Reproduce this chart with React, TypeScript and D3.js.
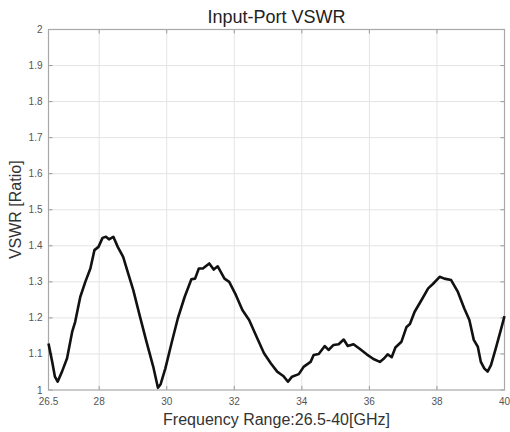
import React, { useRef, useEffect } from "react";
import * as d3 from "d3";

// Trace: frequency in GHz, VSWR ratio
const freqGHz = [
  26.5, 26.61, 26.69, 26.77, 26.9, 27.05, 27.2, 27.29, 27.44, 27.59, 27.74, 27.86, 27.98,
  28.1, 28.2, 28.29, 28.42, 28.55, 28.71, 28.86, 29.01, 29.21, 29.4, 29.6, 29.74, 29.82,
  29.96, 30.14, 30.33, 30.53, 30.73, 30.84, 30.95, 31.07, 31.26, 31.39, 31.51, 31.71,
  31.85, 32.05, 32.24, 32.44, 32.64, 32.88, 33.08, 33.27, 33.45, 33.59, 33.71, 33.91,
  34.06, 34.26, 34.35, 34.5, 34.68, 34.79, 34.94, 35.09, 35.24, 35.36, 35.53, 35.73,
  35.92, 36.12, 36.31, 36.44, 36.54, 36.66, 36.77, 36.95, 37.1, 37.2, 37.34, 37.54,
  37.74, 37.88, 38.08, 38.22, 38.42, 38.62, 38.81, 38.96, 39.09, 39.21, 39.3, 39.4,
  39.5, 39.6, 39.74, 39.89, 40.0,
];
const vswr = [
  1.129, 1.078, 1.037, 1.023, 1.051, 1.088, 1.161, 1.189, 1.258, 1.3, 1.337, 1.388, 1.397,
  1.422, 1.425, 1.418, 1.425, 1.397, 1.369, 1.323, 1.277, 1.203, 1.134, 1.065, 1.006, 1.016,
  1.06, 1.129, 1.199, 1.258, 1.307, 1.309, 1.337, 1.337, 1.351, 1.334, 1.343, 1.309,
  1.3, 1.263, 1.222, 1.194, 1.152, 1.102, 1.074, 1.051, 1.039, 1.023, 1.037, 1.044,
  1.065, 1.078, 1.097, 1.1, 1.122, 1.111, 1.125, 1.127, 1.14, 1.122, 1.127, 1.113,
  1.099, 1.086, 1.078, 1.088, 1.099, 1.091, 1.118, 1.134, 1.175, 1.183, 1.217, 1.249,
  1.282, 1.294, 1.314, 1.309, 1.305, 1.272, 1.226, 1.194, 1.139, 1.12, 1.078, 1.06,
  1.051, 1.069, 1.115, 1.166, 1.205,
];

const xTicks = [26.5, 28, 30, 32, 34, 36, 38, 40];
const yTicks = [1, 1.1, 1.2, 1.3, 1.4, 1.5, 1.6, 1.7, 1.8, 1.9, 2];

const W = 510;
const H = 432;
const margin = { top: 29.5, right: 5.5, bottom: 42, left: 48.5 };
const font = "'Liberation Sans', Arial, sans-serif";

export default function App() {
  const svgRef = useRef<SVGSVGElement>(null);

  useEffect(() => {
    if (!svgRef.current) return;
    const svg = d3.select(svgRef.current);
    svg.selectAll("*").remove();

    const x0 = margin.left;
    const x1 = W - margin.right;
    const y0 = H - margin.bottom;
    const y1 = margin.top;

    const x = d3.scaleLinear().domain([26.5, 40]).range([x0, x1]);
    const y = d3.scaleLinear().domain([1, 2]).range([y0, y1]);

    svg.append("rect").attr("width", W).attr("height", H).attr("fill", "#fff");

    // grid
    const grid = svg.append("g").attr("stroke", "#e4e4e4").attr("stroke-width", 1);
    grid.selectAll(".gx")
      .data(xTicks.slice(1, -1))
      .enter()
      .append("line")
      .attr("x1", (d) => x(d)).attr("x2", (d) => x(d))
      .attr("y1", y1).attr("y2", y0);
    grid.selectAll(".gy")
      .data(yTicks.slice(1, -1))
      .enter()
      .append("line")
      .attr("x1", x0).attr("x2", x1)
      .attr("y1", (d) => y(d)).attr("y2", (d) => y(d));

    // inward ticks on all four sides
    const ticks = svg.append("g").attr("stroke", "#999").attr("stroke-width", 1);
    xTicks.forEach((t) => {
      ticks.append("line").attr("x1", x(t)).attr("x2", x(t)).attr("y1", y0).attr("y2", y0 - 4);
      ticks.append("line").attr("x1", x(t)).attr("x2", x(t)).attr("y1", y1).attr("y2", y1 + 4);
    });
    yTicks.forEach((t) => {
      ticks.append("line").attr("x1", x0).attr("x2", x0 + 4).attr("y1", y(t)).attr("y2", y(t));
      ticks.append("line").attr("x1", x1).attr("x2", x1 - 4).attr("y1", y(t)).attr("y2", y(t));
    });

    // box
    svg.append("rect")
      .attr("x", x0).attr("y", y1)
      .attr("width", x1 - x0).attr("height", y0 - y1)
      .attr("fill", "none").attr("stroke", "#a8a8a8").attr("stroke-width", 1.2);

    // tick labels
    svg.append("g")
      .selectAll("text")
      .data(xTicks)
      .enter()
      .append("text")
      .attr("x", (d) => x(d))
      .attr("y", y0 + 15)
      .attr("text-anchor", "middle")
      .attr("font-family", font)
      .attr("font-size", 10)
      .attr("fill", "#555")
      .text((d) => String(d));
    svg.append("g")
      .selectAll("text")
      .data(yTicks)
      .enter()
      .append("text")
      .attr("x", x0 - 6)
      .attr("y", (d) => y(d) + 3.5)
      .attr("text-anchor", "end")
      .attr("font-family", font)
      .attr("font-size", 10)
      .attr("fill", "#555")
      .text((d) => String(d));

    // curve
    const pts: [number, number][] = freqGHz.map((f, i) => [f, vswr[i]]);
    const line = d3.line<[number, number]>()
      .x((d) => x(d[0]))
      .y((d) => y(d[1]));
    svg.append("path")
      .datum(pts)
      .attr("d", line)
      .attr("fill", "none")
      .attr("stroke", "#111")
      .attr("stroke-width", 2.6)
      .attr("stroke-linejoin", "round");

    // title and axis labels
    svg.append("text")
      .attr("x", (x0 + x1) / 2)
      .attr("y", 23)
      .attr("text-anchor", "middle")
      .attr("font-family", font)
      .attr("font-size", 18)
      .attr("fill", "#222")
      .text("Input-Port VSWR");
    svg.append("text")
      .attr("x", (x0 + x1) / 2)
      .attr("y", 425)
      .attr("text-anchor", "middle")
      .attr("font-family", font)
      .attr("font-size", 16)
      .attr("fill", "#333")
      .text("Frequency Range:26.5-40[GHz]");
    svg.append("text")
      .attr("transform", `translate(21,${(y0 + y1) / 2}) rotate(-90)`)
      .attr("text-anchor", "middle")
      .attr("font-family", font)
      .attr("font-size", 16)
      .attr("fill", "#333")
      .text("VSWR [Ratio]");
  }, []);

  return (
    <svg
      ref={svgRef}
      width={W}
      height={H}
      style={{ position: "absolute", left: 0, top: 0, display: "block" }}
    />
  );
}
